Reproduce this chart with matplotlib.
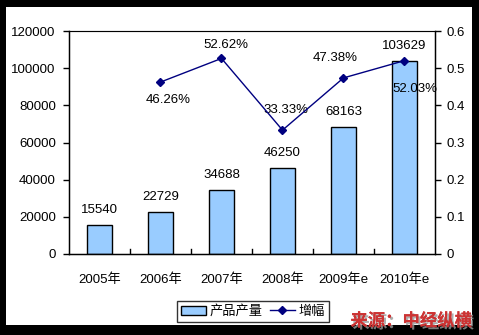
import matplotlib
matplotlib.use("Agg")
import matplotlib.pyplot as plt
import matplotlib.patheffects as pe
from matplotlib.patches import Rectangle

plt.rcParams['font.family'] = ['Liberation Sans', 'Noto Sans CJK SC']
plt.rcParams['font.size'] = 9.5

# data
years = ['2005年', '2006年', '2007年', '2008年', '2009年e', '2010年e']
output = [15540, 22729, 34688, 46250, 68163, 103629]
growth_years = [1, 2, 3, 4, 5]
growth = [0.4626, 0.5262, 0.3333, 0.4738, 0.5203]
growth_labels = ['46.26%', '52.62%', '33.33%', '47.38%', '52.03%']
# label offsets (pixels) for growth labels
growth_offsets = [(8, -18), (4, 13), (3, 20), (-8, 20), (10, -28)]

W, H = 479, 335
fig = plt.figure(figsize=(W / 100, H / 100), dpi=100)
fig.patch.set_facecolor('black')
fig.add_artist(Rectangle((6 / W, 1 - 325 / H), 466 / W, 318 / H,
                         transform=fig.transFigure, facecolor='white',
                         edgecolor='none', zorder=0))

ax = fig.add_axes([69 / W, 1 - 254 / H, 366 / W, 223 / H])
ax.set_facecolor('white')
x = list(range(len(years)))
bars = ax.bar(x, output, width=0.41, color='#99CCFF', edgecolor='black',
              linewidth=1, label='产品产量', zorder=2)
for xi, v in zip(x, output):
    ax.annotate(str(v), (xi, v), xytext=(0, 9), textcoords='offset pixels',
                ha='center', va='bottom')

ax.set_xlim(-0.5, len(years) - 0.5)
ax.set_ylim(0, 120000)
ax.set_yticks(range(0, 120001, 20000))
ax.set_xticks(x)
ax.set_xticklabels(years)
ax.tick_params(axis='x', length=0, pad=14)
for b in [i + 0.5 for i in range(len(years) - 1)]:
    ax.plot([b, b], [0, 2500], color='black', lw=1, zorder=3)
ax.tick_params(axis='y', direction='out', length=4, width=1, pad=5.5)
ax.spines['top'].set_color('#808080')
for s in ['left', 'bottom', 'right']:
    ax.spines[s].set_linewidth(1)

ax2 = ax.twinx()
ax2.set_ylim(0, 0.6)
ax2.set_yticks([0, 0.1, 0.2, 0.3, 0.4, 0.5, 0.6])
ax2.set_yticklabels(['0', '0.1', '0.2', '0.3', '0.4', '0.5', '0.6'])
ax2.tick_params(axis='y', direction='out', length=4, width=1, pad=4.5)
line, = ax2.plot(growth_years, growth, color='#000080', lw=1, marker='D',
                 markersize=4.5, label='增幅', zorder=4)
for xi, v, lab, off in zip(growth_years, growth, growth_labels, growth_offsets):
    ax2.annotate(lab, (xi, v), xytext=off, textcoords='offset pixels',
                 ha='center', va='center')

leg = fig.legend([bars, line], ['产品产量', '增幅'], loc='center',
                 bbox_to_anchor=(253 / W, 1 - 311.5 / H), ncol=2,
                 frameon=True, fancybox=False, edgecolor='black',
                 handlelength=1.9, handletextpad=0.3, columnspacing=0.5,
                 borderpad=0.3)
leg.get_frame().set_linewidth(1)

fig.text(472 / W, 1 - 321 / H, '来源：中经纵横', ha='right', va='center',
         color='#CC3333', fontsize=12.5, fontweight='bold',
         family=['Noto Sans CJK SC'],
         path_effects=[pe.withSimplePatchShadow(offset=(1.5, -1.5),
                                                shadow_rgbFace='#999999',
                                                alpha=0.8), pe.Normal()])

fig.savefig('out.png', dpi=100, facecolor=fig.get_facecolor())
